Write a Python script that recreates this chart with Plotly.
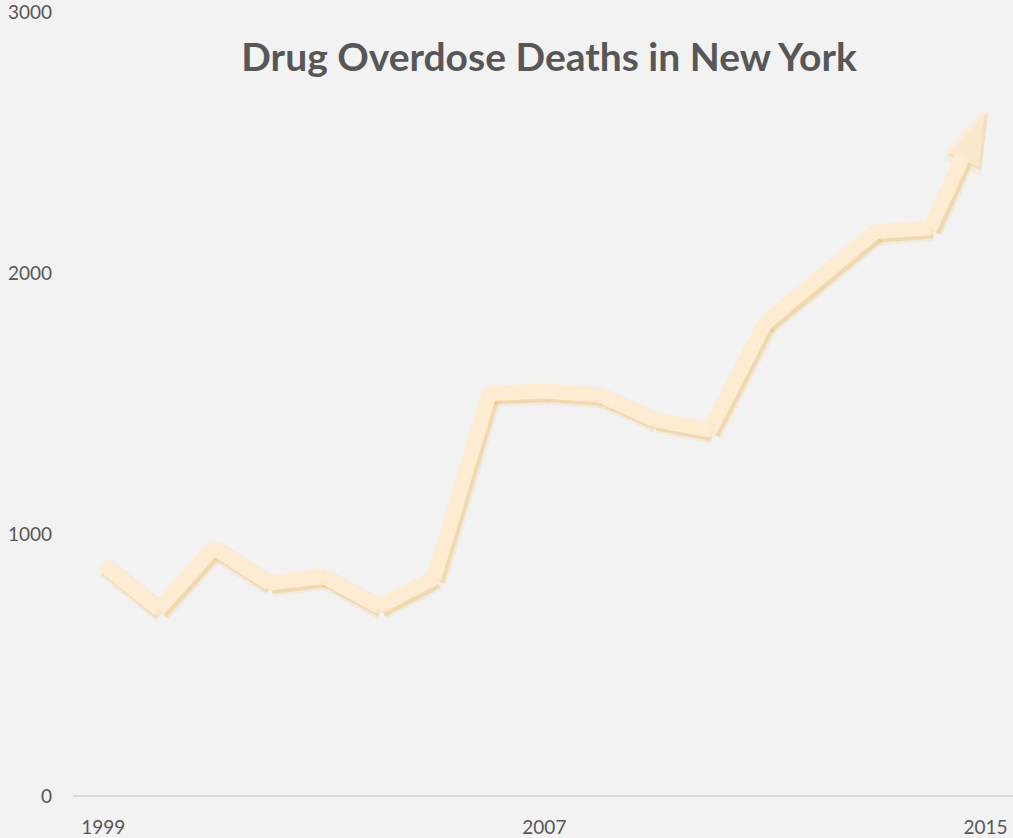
import plotly.graph_objects as go

years = list(range(1999, 2016))
deaths = [885, 715, 950, 815, 840, 725, 835, 1540, 1550, 1535, 1440, 1400, 1810, 1985, 2160, 2175, 2635]
x_ticks = [1999, 2007, 2015]
y_ticks = [0, 1000, 2000, 3000]
title_text = "Drug Overdose Deaths in New York"

line_color = "#fdebd2"
shadow_color = "rgba(240,188,100,0.38)"
shadow_soft = "rgba(240,188,100,0.14)"
bg = "#f2f2f2"
text_color = "#575757"

n = len(years)
symbols = ["circle"] * (n - 1) + ["arrow"]

fig = go.Figure()

# base axes carrier (invisible)
fig.add_trace(go.Scatter(
    x=years, y=deaths, mode="lines", line=dict(width=0, color="rgba(0,0,0,0)"),
    hoverinfo="skip", showlegend=False,
))
# soft shadow
fig.add_trace(go.Scatter(
    x=years, y=deaths, xaxis="x2", yaxis="y2", mode="lines+markers",
    line=dict(color=shadow_soft, width=20),
    marker=dict(symbol=symbols, angleref="previous", size=[0] * (n - 1) + [66],
                color=shadow_soft, line=dict(width=0)),
    hoverinfo="skip", showlegend=False,
))
# tighter shadow
fig.add_trace(go.Scatter(
    x=years, y=deaths, xaxis="x2", yaxis="y2", mode="lines+markers",
    line=dict(color=shadow_color, width=15),
    marker=dict(symbol=symbols, angleref="previous", size=[0] * (n - 1) + [60],
                color=shadow_color, line=dict(width=0)),
    hoverinfo="skip", showlegend=False,
))
# main line
fig.add_trace(go.Scatter(
    x=years, y=deaths, xaxis="x3", yaxis="y3", mode="lines+markers",
    line=dict(color=line_color, width=15),
    marker=dict(symbol=symbols, angleref="previous", size=[14] * (n - 1) + [60],
                color=line_color, line=dict(width=0)),
    showlegend=False,
))

xr = [1998.45, 2015.5]
yr = [0, 3000.5]
dx = 0.05
dy = 13
fig.update_layout(
    width=1013, height=838,
    paper_bgcolor=bg, plot_bgcolor=bg,
    margin=dict(l=73, r=0, t=12, b=42),
    font=dict(family="Lato, 'Open Sans', sans-serif", color=text_color, size=19),
    title=dict(text="<b>" + title_text + "</b>", x=0.542, xanchor="center", y=0.932,
               yanchor="middle", font=dict(size=39, color=text_color)),
    xaxis=dict(range=xr, tickvals=x_ticks, showgrid=False, zeroline=False,
               showline=False, ticks="", ticklabelstandoff=18, tickfont=dict(size=19)),
    yaxis=dict(range=yr, tickvals=y_ticks, showgrid=False, zeroline=True,
               zerolinecolor="#dcdcdc", zerolinewidth=2, showline=False,
               ticks="", ticklabelstandoff=20, tickfont=dict(size=19),
               ticklabeloverflow="allow"),
    xaxis2=dict(range=[xr[0] - dx, xr[1] - dx], overlaying="x", visible=False, anchor="y2"),
    yaxis2=dict(range=[yr[0] + dy, yr[1] + dy], overlaying="y", visible=False, anchor="x2"),
    xaxis3=dict(range=xr, overlaying="x", visible=False, anchor="y3"),
    yaxis3=dict(range=yr, overlaying="y", visible=False, anchor="x3"),
)

fig.write_html("out.html", config={"displayModeBar": False},
               post_script="document.body.style.margin='0';document.body.style.overflow='hidden';")
